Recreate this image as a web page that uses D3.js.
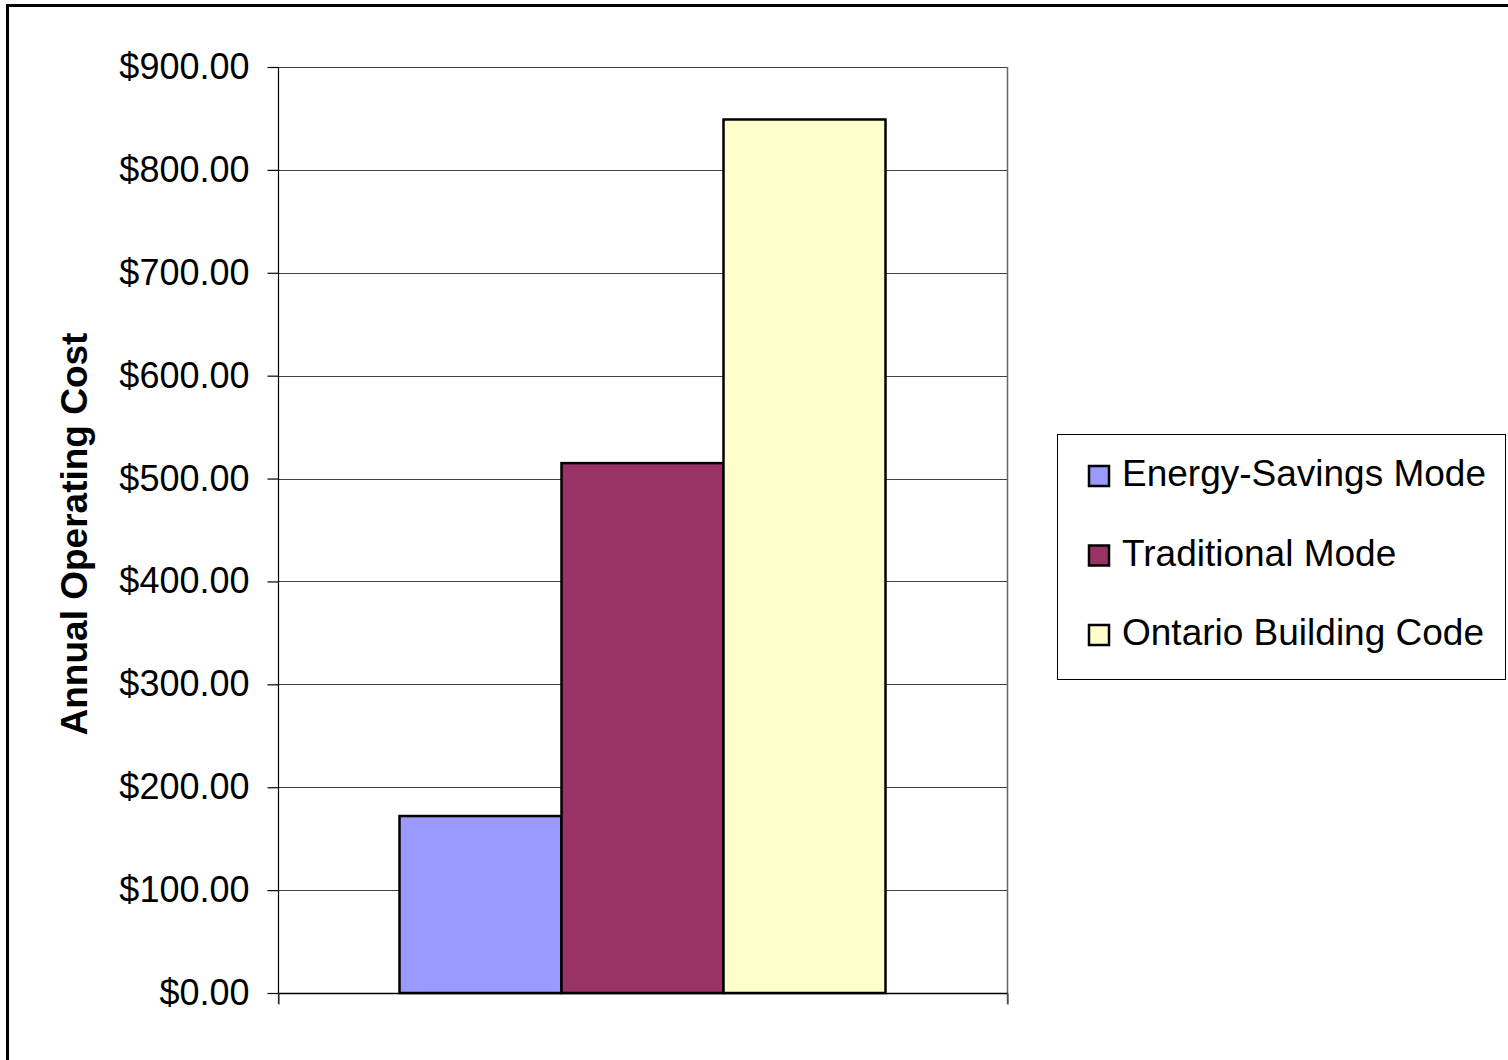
<!DOCTYPE html>
<html>
<head>
<meta charset="utf-8">
<script src="https://cdn.jsdelivr.net/npm/d3@7"></script>
<style>
  html, body { margin: 0; padding: 0; background: #fff; }
  svg { display: block; }
  text { font-family: "Liberation Sans", Arial, sans-serif; fill: #000; }
</style>
</head>
<body>
<svg id="chart" width="1508" height="1060"></svg>
<script>
// Annual operating cost by operating mode
const seriesNames = ["Energy-Savings Mode", "Traditional Mode", "Ontario Building Code"];
const seriesValues = [172, 515, 849];
const seriesColors = ["#9999FF", "#993366", "#FFFFCC"];
const yTicks = [0, 100, 200, 300, 400, 500, 600, 700, 800, 900];
const yTitle = "Annual Operating Cost";

const svg = d3.select("#chart");

// outer frame (top and left edges visible)
svg.append("line").attr("x1", 7).attr("x2", 1508).attr("y1", 5.5).attr("y2", 5.5)
  .attr("stroke", "#000").attr("stroke-width", 3);
svg.append("line").attr("x1", 7.5).attr("x2", 7.5).attr("y1", 4).attr("y2", 1060)
  .attr("stroke", "#000").attr("stroke-width", 3);

const plot = { left: 278, right: 1007, top: 67, bottom: 993 };

const y = d3.scaleLinear().domain([0, 900]).range([plot.bottom, plot.top]);

// single category band with 150% gap width on the outer sides
const band = d3.scaleBand().domain(["all"]).range([plot.left, plot.right])
  .paddingInner(0).paddingOuter(0);
const groupWidth = band.bandwidth() / (1 + 1.5 / 3);
const x = d3.scaleBand().domain(seriesNames)
  .range([band("all") + (band.bandwidth() - groupWidth) / 2,
          band("all") + (band.bandwidth() + groupWidth) / 2])
  .padding(0);

// gridlines
svg.append("g").selectAll("line").data(yTicks.filter(d => d > 0)).join("line")
  .attr("x1", plot.left).attr("x2", plot.right)
  .attr("y1", d => Math.round(y(d)) + 0.5).attr("y2", d => Math.round(y(d)) + 0.5)
  .attr("stroke", "#000").attr("stroke-width", 1).attr("stroke-opacity", 0.75);

// right edge of plot area
svg.append("line").attr("x1", plot.right + 0.5).attr("x2", plot.right + 0.5)
  .attr("y1", plot.top).attr("y2", plot.bottom + 11)
  .attr("stroke", "#666").attr("stroke-width", 1.5);

// bars
svg.append("g").selectAll("rect").data(seriesValues).join("rect")
  .attr("x", (d, i) => x(seriesNames[i]))
  .attr("y", d => y(d))
  .attr("width", x.bandwidth())
  .attr("height", d => y(0) - y(d))
  .attr("fill", (d, i) => seriesColors[i])
  .attr("stroke", "#000").attr("stroke-width", 2.5);

// y axis
const yAxis = d3.axisLeft(y).tickValues(yTicks)
  .tickFormat(d => "$" + d3.format(".2f")(d))
  .tickSize(11).tickPadding(18);
const gy = svg.append("g").attr("transform", `translate(${plot.left + 0.5},0)`).call(yAxis);
gy.select(".domain").attr("stroke", "#000").attr("stroke-width", 1.2)
  .attr("d", `M0,${plot.top}V${plot.bottom + 11}`);
gy.selectAll(".tick line").attr("stroke", "#000").attr("stroke-width", 1.2);
gy.selectAll(".tick text").attr("font-size", 36)
  .attr("font-family", "'Liberation Sans', Arial, sans-serif").attr("fill", "#000");

// x axis line with edge ticks
const xAxis = d3.axisBottom(d3.scaleLinear().domain([0, 1]).range([plot.left, plot.right]))
  .tickValues([0, 1]).tickSize(11).tickFormat("");
const gx = svg.append("g").attr("transform", `translate(0.5,${plot.bottom + 0.5})`).call(xAxis);
gx.select(".domain").attr("stroke", "#000").attr("stroke-width", 1.5)
  .attr("d", `M${plot.left},0H${plot.right}`);
gx.selectAll(".tick line").attr("stroke", "#444").attr("stroke-width", 1.2);

// y axis title
svg.append("text")
  .attr("transform", `translate(87,${(plot.top + plot.bottom) / 2 + 4}) rotate(-90)`)
  .attr("text-anchor", "middle")
  .attr("font-size", 37).attr("font-weight", "bold")
  .text(yTitle);

// legend
const legend = svg.append("g");
legend.append("rect").attr("x", 1057.5).attr("y", 434.5).attr("width", 448).attr("height", 245)
  .attr("fill", "#fff").attr("stroke", "#000").attr("stroke-width", 1);
const items = legend.selectAll("g.item").data(seriesNames).join("g").attr("class", "item")
  .attr("transform", (d, i) => `translate(1089,${486 + i * 79.5})`);
items.append("rect").attr("x", 0).attr("y", -20).attr("width", 20).attr("height", 20)
  .attr("fill", (d, i) => seriesColors[i]).attr("stroke", "#000").attr("stroke-width", 2.5);
items.append("text").attr("x", 33).attr("y", 0)
  .attr("font-size", 37).text(d => d);
</script>
</body>
</html>
